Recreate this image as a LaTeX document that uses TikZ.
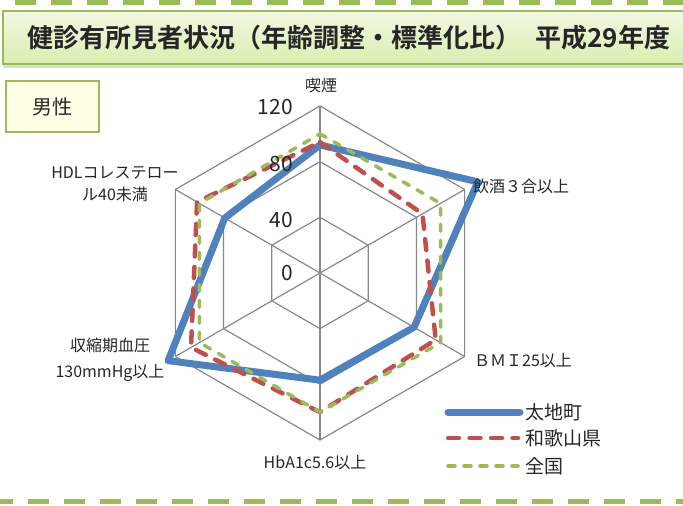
\documentclass[tikz,border=0pt]{standalone}
\usepackage{fontspec}
\setmainfont{Noto Sans CJK JP}[BoldFont={Noto Sans CJK JP Bold}]
\usepackage{tikz}
\usetikzlibrary{shadows}

\definecolor{chartblue}{HTML}{4F81BD}
\definecolor{chartred}{HTML}{C0504D}
\definecolor{chartgreen}{HTML}{9BBB59}
\definecolor{gridgray}{HTML}{888888}
\definecolor{titletop}{HTML}{F1F8E3}
\definecolor{titlebot}{HTML}{D9EEB0}
\definecolor{tagfill}{HTML}{FFFFE6}
\definecolor{textgray}{HTML}{262626}

\tikzset{
  titlebox/.style={draw=chartgreen, line width=1.5pt, top color=titletop, bottom color=titlebot,
    minimum width=692pt, minimum height=53pt, inner sep=0pt,
    drop shadow={shadow xshift=0pt, shadow yshift=-4pt, opacity=0.3}},
  tagbox/.style={draw=chartgreen, line width=2pt, fill=tagfill, minimum width=93pt, minimum height=51pt, inner sep=0pt},
  axislabel/.style={font=\fontsize{16}{22}\selectfont, text=textgray, inner sep=0pt},
  ticklabel/.style={font=\fontsize{21}{24}\selectfont, text=textgray, anchor=east, inner sep=0pt},
  gridline/.style={draw=gridgray, line width=1.2pt},
  town/.style={draw=chartblue, line width=7pt, line cap=round, line join=round},
  pref/.style={draw=chartred, line width=4.5pt, dash pattern=on 11pt off 10.5pt, line cap=round, line join=round},
  nation/.style={draw=chartgreen, line width=3.5pt, dash pattern=on 7pt off 9pt, line cap=round},
  legendtext/.style={font=\fontsize{19}{22}\selectfont, text=textgray, anchor=west, inner sep=0pt},
  border/.style={draw=chartgreen, line width=5pt, dash pattern=on 21pt off 15pt}
}

\begin{document}
\begin{tikzpicture}[x=1pt,y=-1pt]
    \useasboundingbox (0,0) rectangle (683,506);
    %% dashed frame lines
    \coordinate (topL) at (-21,2.5);
    \coordinate (topR) at (690,2.5);
    \coordinate (botL) at (-8,501);
    \coordinate (botR) at (690,501);
    \draw [border] (topL) -- (topR);
    \draw [border] (botL) -- (botR);
    %% title and tag
    \node [titlebox] (title) at (349,37.5) {\fontsize{26}{30}\selectfont\bfseries\color{textgray}健診有所見者状況（年齢調整・標準化比）\hspace{14pt}平成29年度};
    \node [tagbox] (sex) at (52.5,106.5) {\fontsize{20}{24}\selectfont\color{textgray}男性};
    %% radar chart
    \begin{scope}[shift={(320,273)}, x=1.3917pt, y=1.3917pt]
      \foreach \r in {40,80,120}
        \draw [gridline] (90:\r) -- (30:\r) -- (-30:\r) -- (-90:\r) -- (210:\r) -- (150:\r) -- cycle;
      \foreach \a in {90,30,-30,-90,210,150}
        \draw [gridline] (0,0) -- (\a:120);
      %% series
      \draw [town] (90:92) -- (30:131) -- (-30:78) -- (-90:77) -- (210:126) -- (150:79) -- cycle;
      \draw [pref] (90:94) -- (30:85) -- (-30:96) -- (-90:100) -- (210:107) -- (150:102) -- cycle;
      \draw [nation] (90:100) -- (30:100) -- (-30:100) -- (-90:100) -- (210:100) -- (150:100) -- cycle;
    \end{scope}
    %% value axis
    \node [ticklabel] (tick0) at (293,273) {0};
    \node [ticklabel] (tick40) at (293,220) {40};
    \node [ticklabel] (tick80) at (293,164) {80};
    \node [ticklabel] (tick120) at (293,107) {120};
    %% category labels
    \node [axislabel] (smoke) at (321,85) {喫煙};
    \node [axislabel, anchor=west] (drink) at (473,186) {飲酒３合以上};
    \node [axislabel, anchor=west] (bmi) at (474,361) {ＢＭＩ25以上};
    \node [axislabel] (hba) at (315,463) {HbA1c5.6以上};
    \node [axislabel, align=center] (bp) at (110,360) {収縮期血圧\\[4pt]130mmHg以上};
    \node [axislabel, align=center] (hdl) at (115,184) {HDLコレステロー\\ル40未満};
    %% legend
    \coordinate (townA) at (448,412);
    \coordinate (townB) at (520,412);
    \draw [town] (townA) -- (townB);
    \node [legendtext] (townlbl) at (525,412) {太地町};
    \coordinate (prefA) at (448,438);
    \coordinate (prefB) at (518,438);
    \draw [pref] (prefA) -- (prefB);
    \node [legendtext] (preflbl) at (525,438) {和歌山県};
    \coordinate (nationA) at (448,466);
    \coordinate (nationB) at (518,466);
    \draw [nation] (nationA) -- (nationB);
    \node [legendtext] (nationlbl) at (525,466) {全国};
\end{tikzpicture}
\end{document}
